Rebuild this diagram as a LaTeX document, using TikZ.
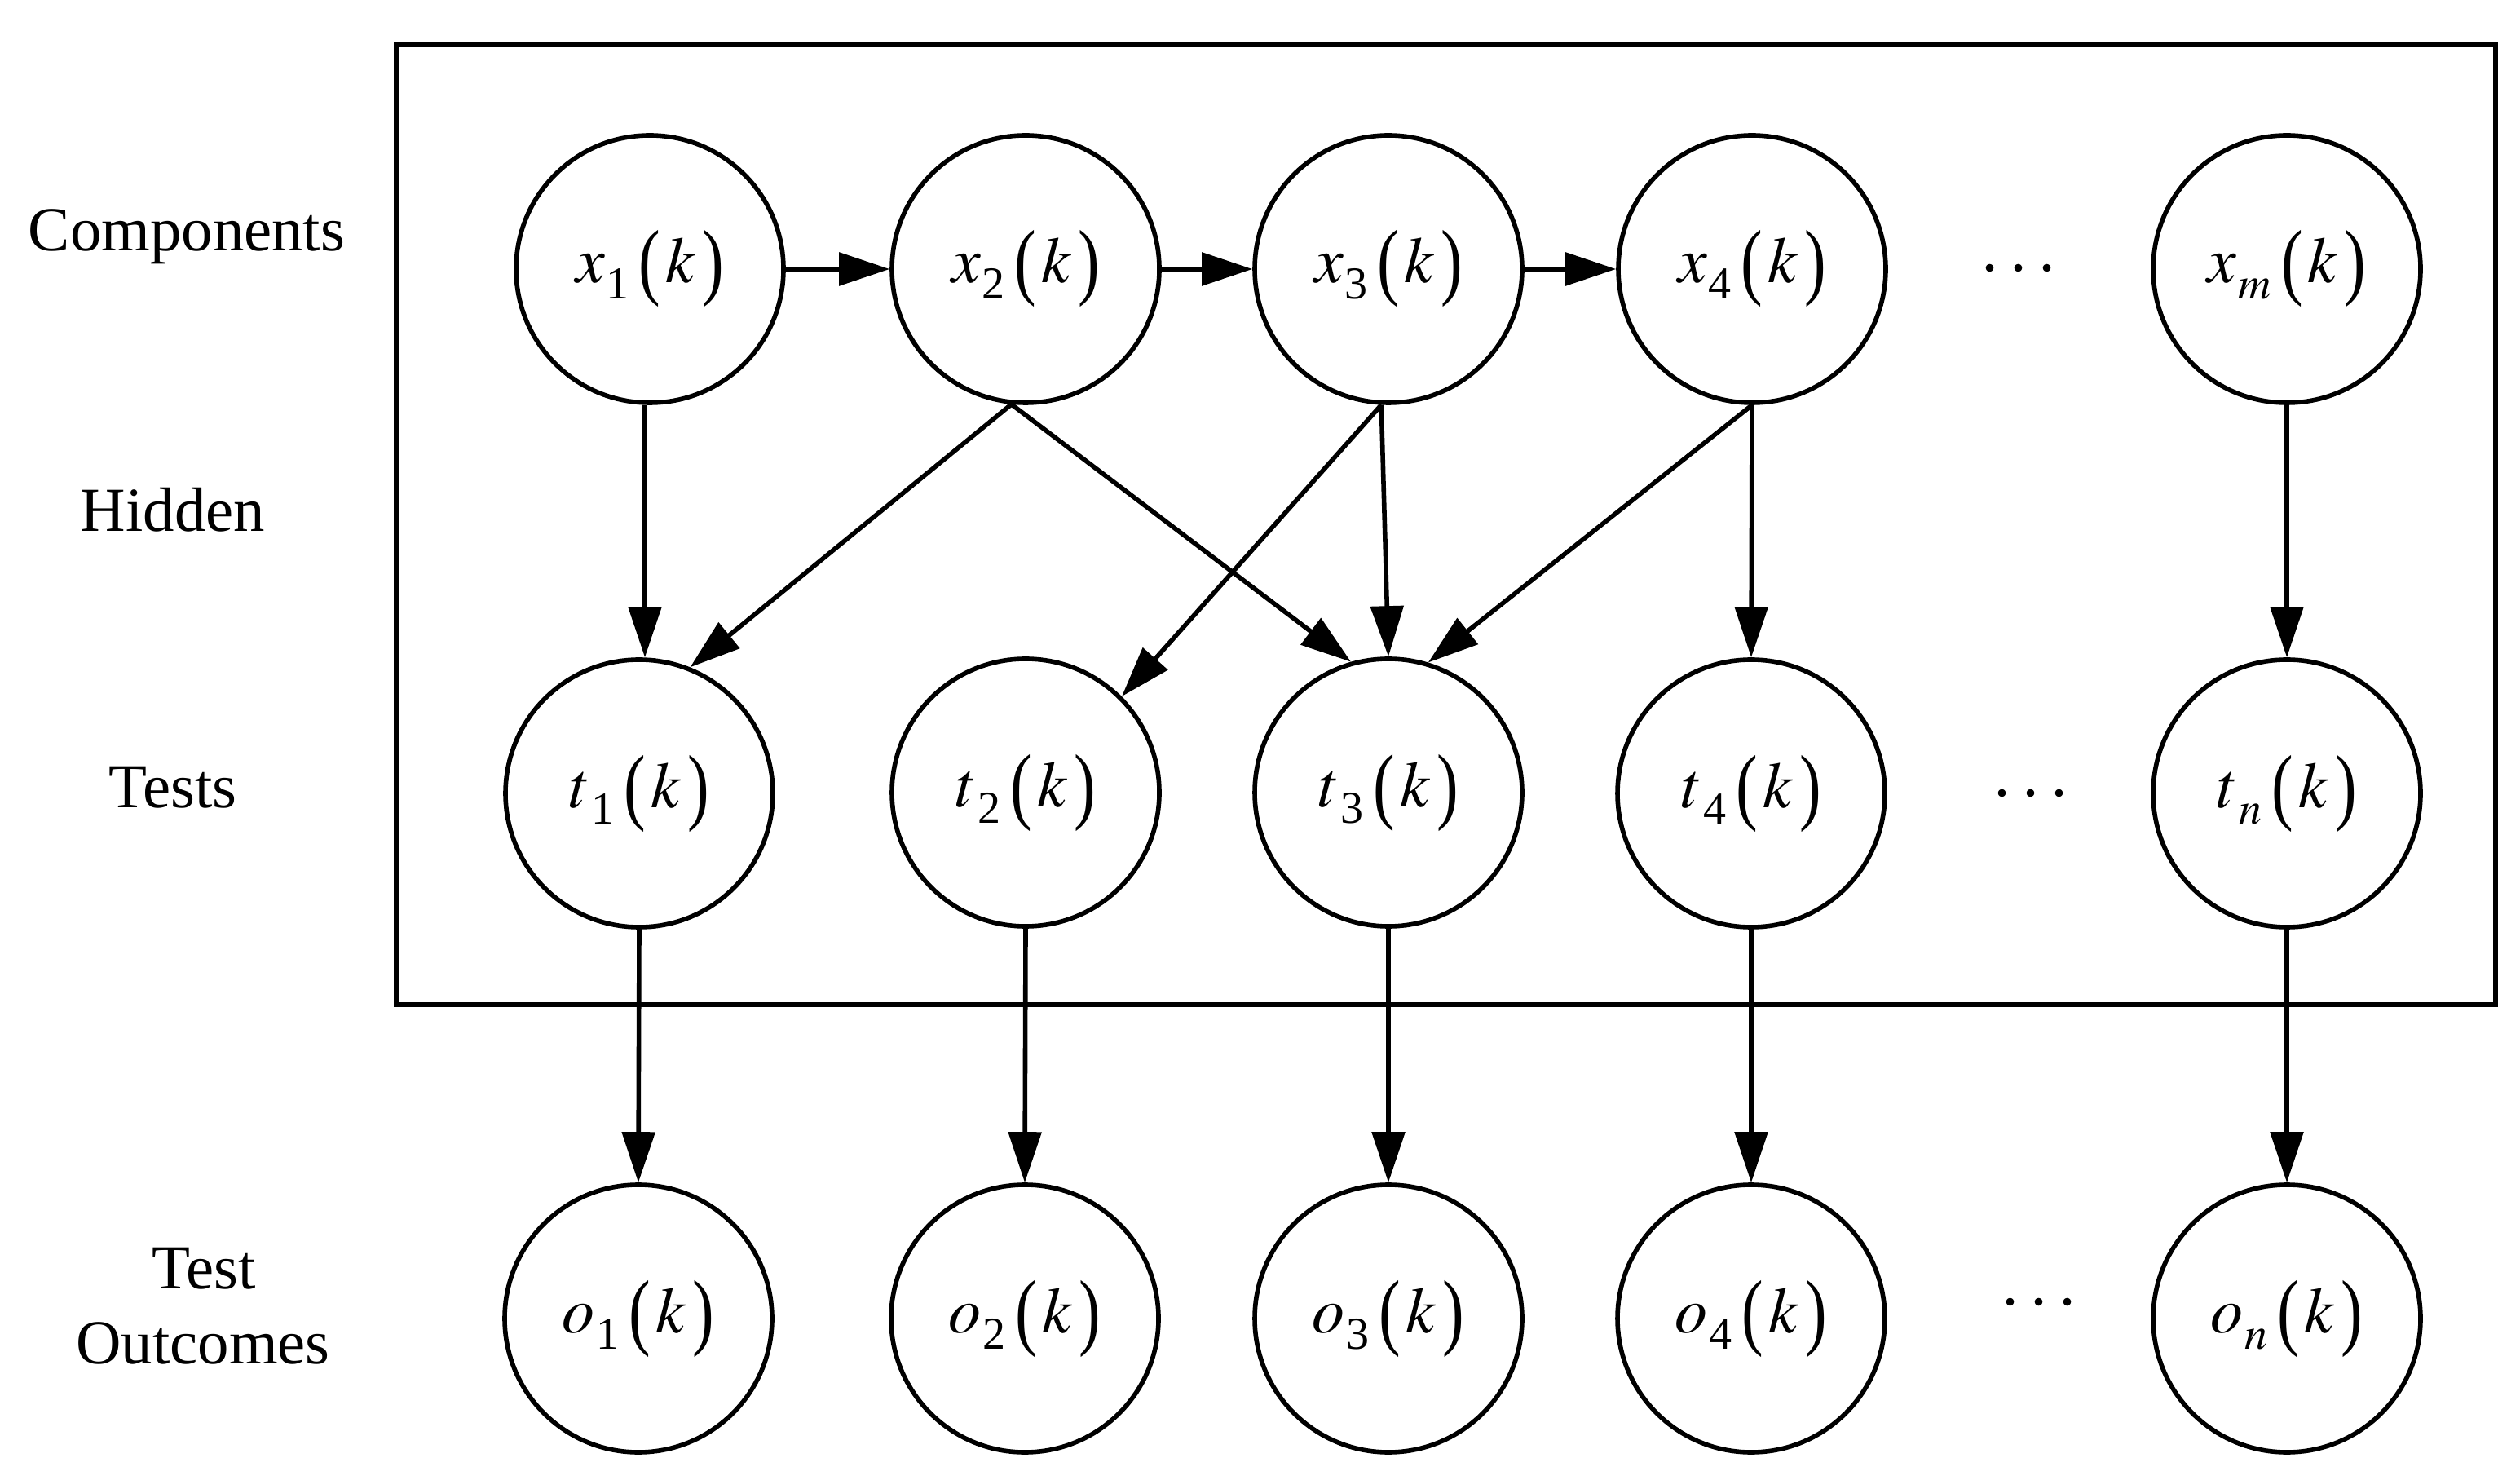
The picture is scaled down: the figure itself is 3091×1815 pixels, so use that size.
\documentclass[tikz,border=0pt]{standalone}
\usepackage{mathptmx}
\usepackage{fontspec}
\setmainfont{Liberation Serif}
\usepackage{graphicx}
\usetikzlibrary{arrows.meta,calc}
\newcommand{\vlab}[2]{$#1$\kern0.5pt\raisebox{-5pt}{\fontsize{14}{14}\selectfont #2}\kern3pt\raisebox{-2pt}{\scalebox{1}[1.3]{(}}\kern1.5pt$k$\kern2pt\raisebox{-2pt}{\scalebox{1}[1.3]{)}}}
\begin{document}
\begin{tikzpicture}[x=0.25pt,y=-0.25pt,
  var/.style={draw,circle,line width=1.4pt,minimum size=82pt,inner sep=0pt,font=\fontsize{20}{24}\selectfont},
  rowlab/.style={anchor=base,inner sep=0pt,font=\fontsize{19.2}{23}\selectfont},
  dotsl/.style={inner sep=0pt,font=\fontsize{22.5}{24}\selectfont},
  edge/.style={line width=1.4pt,-{Triangle[length=15.5pt,width=10pt]}},
  frame/.style={draw,line width=1.4pt}]
\useasboundingbox (0,0) rectangle (3091,1815);
\draw[frame] (486,55) rectangle (3061,1232);
% row labels
\node[rowlab] (lComp) at (229,308) {Components};
\node[rowlab] (lHid) at (212,652) {Hidden};
\node[rowlab] (lTests) at (212,991) {Tests};
\node[rowlab] (lTest) at (250,1580) {Test};
\node[rowlab] (lOut) at (249,1672) {Outcomes};
% components
\node[var] (x1) at (797,330) {\vlab{x}{1}};
\node[var] (x2) at (1258,330) {\vlab{x}{2}};
\node[var] (x3) at (1703,330) {\vlab{x}{3}};
\node[var] (x4) at (2149,330) {\vlab{x}{4}};
\node[var] (xm) at (2805,330) {\vlab{x}{$m$}};
\node[dotsl] (dx) at (2476,332) {$\cdots$};
% tests
\node[var] (t1) at (784,973) {\vlab{t}{1}};
\node[var] (t2) at (1258,972) {\vlab{t}{2}};
\node[var] (t3) at (1703,972) {\vlab{t}{3}};
\node[var] (t4) at (2148,973) {\vlab{t}{4}};
\node[var] (tn) at (2805,973) {\vlab{t}{$n$}};
\node[dotsl] (dt) at (2491,976) {$\cdots$};
% outcomes
\node[var] (o1) at (783,1617) {\vlab{o}{1}};
\node[var] (o2) at (1257,1617) {\vlab{o}{2}};
\node[var] (o3) at (1703,1617) {\vlab{o}{3}};
\node[var] (o4) at (2148,1617) {\vlab{o}{4}};
\node[var] (on) at (2805,1617) {\vlab{o}{$n$}};
\node[dotsl] (do) at (2501,1600) {$\cdots$};
% chain
\draw[edge] (x1) -- (x2);
\draw[edge] (x2) -- (x3);
\draw[edge] (x3) -- (x4);
% components to tests
\coordinate (x1b) at ($(x1.south)+(-6,0)$);
\draw[edge] (x1b) -- (x1b |- t1.north);
\draw[edge] (x2.264) -- (t1.68);
\draw[edge] (x2.264) -- (t3.106);
\draw[edge] (x3.267) -- (t2.45);
\draw[edge] (x3.267) -- (t3.north);
\draw[edge] (x4.south) -- (t3.73);
\draw[edge] (x4.south) -- (t4.north);
\draw[edge] (xm.south) -- (tn.north);
% tests to outcomes
\draw[edge] (t1.south) -- (o1.north);
\draw[edge] (t2.south) -- (o2.north);
\draw[edge] (t3.south) -- (o3.north);
\draw[edge] (t4.south) -- (o4.north);
\draw[edge] (tn.south) -- (on.north);
\end{tikzpicture}
\end{document}
